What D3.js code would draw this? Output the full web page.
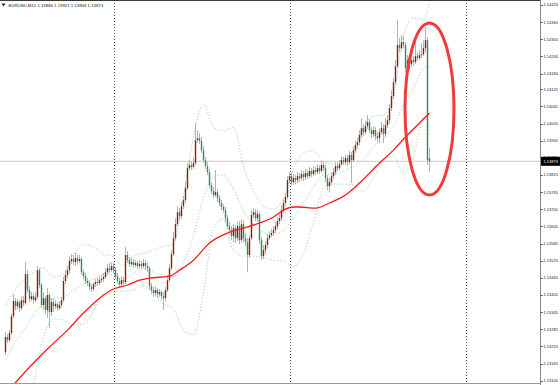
<!DOCTYPE html>
<html>
<head>
<meta charset="utf-8">
<script src="https://cdn.jsdelivr.net/npm/d3@7"></script>
<style>
  html, body { margin: 0; padding: 0; background: #fff; }
  svg { display: block; }
  text { font-family: "Liberation Sans", Arial, sans-serif; }
</style>
</head>
<body>
<div id="chart"></div>
<script>
'use strict';

// header of the chart window
const symbolTitle = 'EURUSD,M15';
const lastBarText = ['1.13884', '1.13921', '1.13834', '1.13873'];
const lastPrice = 1.13873;

// M15 candles, [open, high, low, close]
const candles = [
  [1.13205,1.13275,1.13195,1.13258],[1.13258,1.13268,1.13237,1.13247],[1.13247,1.13282,1.13240,1.13272],
  [1.13272,1.13342,1.13265,1.13331],[1.13331,1.13408,1.13324,1.13384],[1.13384,1.13394,1.13352,1.13366],
  [1.13366,1.13391,1.13356,1.13380],[1.13380,1.13387,1.13345,1.13359],[1.13359,1.13401,1.13352,1.13387],
  [1.13387,1.13401,1.13366,1.13377],
  [1.13377,1.13520,1.13370,1.13478],[1.13478,1.13492,1.13412,1.13422],[1.13422,1.13436,1.13380,1.13391],
  [1.13391,1.13415,1.13384,1.13401],[1.13401,1.13412,1.13373,1.13387],[1.13387,1.13415,1.13380,1.13398],
  [1.13398,1.13506,1.13391,1.13492],[1.13492,1.13499,1.13429,1.13440],[1.13440,1.13447,1.13359,1.13370],
  [1.13370,1.13415,1.13352,1.13394],
  [1.13394,1.13401,1.13338,1.13352],[1.13352,1.13429,1.13324,1.13405],[1.13405,1.13412,1.13289,1.13345],
  [1.13345,1.13394,1.13331,1.13380],[1.13380,1.13394,1.13345,1.13366],[1.13366,1.13387,1.13356,1.13373],
  [1.13373,1.13380,1.13349,1.13359],[1.13359,1.13384,1.13352,1.13370],[1.13370,1.13398,1.13359,1.13387],
  [1.13387,1.13468,1.13380,1.13454],
  [1.13454,1.13492,1.13443,1.13475],[1.13475,1.13506,1.13464,1.13492],[1.13492,1.13541,1.13482,1.13524],
  [1.13524,1.13548,1.13513,1.13531],[1.13531,1.13545,1.13510,1.13520],[1.13520,1.13552,1.13506,1.13534],
  [1.13534,1.13545,1.13513,1.13524],[1.13524,1.13545,1.13517,1.13531],[1.13531,1.13538,1.13475,1.13485],
  [1.13485,1.13492,1.13461,1.13471],
  [1.13471,1.13482,1.13443,1.13454],[1.13454,1.13464,1.13436,1.13447],[1.13447,1.13457,1.13422,1.13433],
  [1.13433,1.13443,1.13415,1.13426],[1.13426,1.13450,1.13419,1.13443],[1.13443,1.13461,1.13433,1.13450],
  [1.13450,1.13464,1.13436,1.13447],[1.13447,1.13471,1.13440,1.13457],[1.13457,1.13475,1.13447,1.13461],
  [1.13461,1.13482,1.13450,1.13468],
  [1.13468,1.13499,1.13461,1.13485],[1.13485,1.13513,1.13475,1.13499],[1.13499,1.13517,1.13482,1.13492],
  [1.13492,1.13520,1.13485,1.13506],[1.13506,1.13517,1.13482,1.13492],[1.13492,1.13503,1.13461,1.13471],
  [1.13471,1.13482,1.13443,1.13454],[1.13454,1.13464,1.13433,1.13443],[1.13443,1.13471,1.13433,1.13457],
  [1.13457,1.13468,1.13440,1.13450],
  [1.13450,1.13573,1.13443,1.13545],[1.13545,1.13559,1.13517,1.13527],[1.13527,1.13538,1.13503,1.13513],
  [1.13513,1.13534,1.13506,1.13520],[1.13520,1.13531,1.13499,1.13510],[1.13510,1.13527,1.13503,1.13517],
  [1.13517,1.13524,1.13496,1.13506],[1.13506,1.13527,1.13499,1.13513],[1.13513,1.13524,1.13496,1.13506],
  [1.13506,1.13531,1.13499,1.13517],
  [1.13517,1.13527,1.13492,1.13506],[1.13506,1.13520,1.13485,1.13499],[1.13499,1.13506,1.13422,1.13436],
  [1.13436,1.13447,1.13408,1.13422],[1.13422,1.13433,1.13398,1.13412],[1.13412,1.13436,1.13401,1.13422],
  [1.13422,1.13429,1.13394,1.13408],[1.13408,1.13426,1.13398,1.13415],[1.13415,1.13422,1.13387,1.13401],
  [1.13401,1.13415,1.13352,1.13394],
  [1.13394,1.13433,1.13384,1.13422],[1.13422,1.13471,1.13415,1.13457],[1.13457,1.13513,1.13450,1.13499],
  [1.13499,1.13562,1.13492,1.13548],[1.13548,1.13625,1.13541,1.13604],[1.13604,1.13674,1.13597,1.13653],
  [1.13653,1.13716,1.13646,1.13695],[1.13695,1.13709,1.13667,1.13681],[1.13681,1.13730,1.13671,1.13716],
  [1.13716,1.13751,1.13706,1.13737],
  [1.13737,1.13800,1.13727,1.13779],[1.13779,1.13867,1.13772,1.13849],[1.13849,1.13877,1.13842,1.13860],
  [1.13860,1.13874,1.13842,1.13853],[1.13853,1.13884,1.13846,1.13867],[1.13867,1.14007,1.13860,1.13947],
  [1.13947,1.13982,1.13937,1.13954],[1.13954,1.13972,1.13933,1.13944],[1.13944,1.13958,1.13902,1.13912],
  [1.13912,1.13926,1.13867,1.13877],
  [1.13877,1.13888,1.13846,1.13856],[1.13856,1.13870,1.13825,1.13835],[1.13835,1.13846,1.13779,1.13790],
  [1.13790,1.13800,1.13758,1.13769],[1.13769,1.13783,1.13744,1.13755],[1.13755,1.13842,1.13748,1.13765],
  [1.13765,1.13776,1.13730,1.13744],[1.13744,1.13755,1.13716,1.13727],[1.13727,1.13737,1.13702,1.13713],
  [1.13713,1.13723,1.13692,1.13702],
  [1.13702,1.13713,1.13660,1.13674],[1.13674,1.13685,1.13636,1.13646],[1.13646,1.13660,1.13618,1.13632],
  [1.13632,1.13646,1.13597,1.13611],[1.13611,1.13653,1.13590,1.13639],[1.13639,1.13650,1.13587,1.13604],
  [1.13604,1.13660,1.13594,1.13646],[1.13646,1.13664,1.13583,1.13597],[1.13597,1.13671,1.13587,1.13653],
  [1.13653,1.13667,1.13590,1.13604],
  [1.13604,1.13622,1.13576,1.13590],[1.13590,1.13604,1.13485,1.13545],[1.13545,1.13615,1.13534,1.13604],
  [1.13604,1.13702,1.13597,1.13685],[1.13685,1.13709,1.13674,1.13695],[1.13695,1.13706,1.13664,1.13674],
  [1.13674,1.13702,1.13660,1.13688],[1.13688,1.13695,1.13583,1.13597],[1.13597,1.13608,1.13527,1.13541],
  [1.13541,1.13580,1.13531,1.13562],
  [1.13562,1.13594,1.13548,1.13580],[1.13580,1.13618,1.13569,1.13604],[1.13604,1.13629,1.13597,1.13615],
  [1.13615,1.13636,1.13608,1.13622],[1.13622,1.13646,1.13611,1.13632],[1.13632,1.13660,1.13622,1.13646],
  [1.13646,1.13678,1.13636,1.13664],[1.13664,1.13688,1.13653,1.13674],[1.13674,1.13720,1.13664,1.13702],
  [1.13702,1.13741,1.13692,1.13727],
  [1.13727,1.13762,1.13716,1.13748],[1.13748,1.13821,1.13741,1.13807],[1.13807,1.13835,1.13797,1.13821],
  [1.13821,1.13832,1.13790,1.13800],[1.13800,1.13828,1.13790,1.13814],[1.13814,1.13825,1.13793,1.13807],
  [1.13807,1.13835,1.13797,1.13821],[1.13821,1.13832,1.13800,1.13814],[1.13814,1.13842,1.13807,1.13828],
  [1.13828,1.13839,1.13804,1.13818],
  [1.13818,1.13846,1.13807,1.13832],[1.13832,1.13842,1.13811,1.13821],[1.13821,1.13853,1.13814,1.13839],
  [1.13839,1.13849,1.13818,1.13828],[1.13828,1.13856,1.13821,1.13842],[1.13842,1.13853,1.13825,1.13835],
  [1.13835,1.13863,1.13828,1.13849],[1.13849,1.13860,1.13828,1.13839],[1.13839,1.13874,1.13832,1.13860],
  [1.13860,1.13870,1.13839,1.13849],
  [1.13849,1.13860,1.13800,1.13814],[1.13814,1.13825,1.13772,1.13786],[1.13786,1.13814,1.13765,1.13800],
  [1.13800,1.13835,1.13790,1.13821],[1.13821,1.13849,1.13811,1.13835],[1.13835,1.13870,1.13825,1.13856],
  [1.13856,1.13867,1.13839,1.13849],[1.13849,1.13877,1.13842,1.13863],[1.13863,1.13891,1.13856,1.13877],
  [1.13877,1.13888,1.13860,1.13870],
  [1.13870,1.13898,1.13860,1.13884],[1.13884,1.13895,1.13856,1.13870],[1.13870,1.13909,1.13863,1.13895],
  [1.13895,1.13905,1.13797,1.13877],[1.13877,1.13926,1.13870,1.13912],[1.13912,1.13944,1.13902,1.13930],
  [1.13930,1.13954,1.13919,1.13940],[1.13940,1.13982,1.13930,1.13965],[1.13965,1.14024,1.13954,1.13989],
  [1.13989,1.14003,1.13961,1.13975],
  [1.13975,1.14014,1.13968,1.13996],[1.13996,1.14035,1.13986,1.14010],[1.14010,1.14021,1.13972,1.13982],
  [1.13982,1.13993,1.13954,1.13968],[1.13968,1.13996,1.13958,1.13982],[1.13982,1.13993,1.13947,1.13961],
  [1.13961,1.13975,1.13940,1.13954],[1.13954,1.13989,1.13937,1.13975],[1.13975,1.14010,1.13965,1.13989],
  [1.13989,1.14003,1.13937,1.13968],
  [1.13968,1.14024,1.13958,1.14000],[1.14000,1.14035,1.13989,1.14017],[1.14017,1.14073,1.14003,1.14059],
  [1.14059,1.14122,1.14049,1.14101],[1.14101,1.14164,1.14091,1.14150],[1.14150,1.14227,1.14140,1.14206],
  [1.14206,1.14367,1.14199,1.14280],[1.14280,1.14304,1.14255,1.14269],[1.14269,1.14315,1.14262,1.14290],
  [1.14290,1.14311,1.14269,1.14280],
  [1.14280,1.14290,1.14185,1.14199],[1.14199,1.14245,1.14168,1.14227],[1.14227,1.14245,1.14192,1.14213],
  [1.14213,1.14241,1.14203,1.14227],[1.14227,1.14241,1.14206,1.14220],[1.14220,1.14297,1.14213,1.14241],
  [1.14241,1.14255,1.14224,1.14234],[1.14234,1.14262,1.14227,1.14245],[1.14245,1.14287,1.14234,1.14248],
  [1.14248,1.14297,1.14241,1.14269],
  [1.14269,1.14343,1.14255,1.14297],[1.14297,1.14308,1.13860,1.13877],[1.13884,1.13921,1.13834,1.13873]
];

// Bollinger bands (20, 2), read at these bars
const bandIdx = [0,4,9,14,19,24,29,34,39,44,49,54,59,64,69,74,79,84,89,94,99,104,109,114,119,
  124,129,134,139,144,149,154,159,164,169,174,179,184,189,194,199,204,209,211,212];
const bandMid = [1.13177,1.13230,1.13282,1.13335,1.13377,1.13394,1.13398,1.13422,1.13443,1.13461,
  1.13478,1.13475,1.13461,1.13482,1.13496,1.13485,1.13475,1.13471,1.13517,1.13613,1.13744,1.13818,
  1.13825,1.13776,1.13699,1.13653,1.13625,1.13618,1.13632,1.13676,1.13727,1.13783,1.13825,1.13828,
  1.13839,1.13853,1.13881,1.13924,1.13951,1.13996,1.14073,1.14129,1.14199,1.14206,1.14197];
const bandUpper = [1.13370,1.13415,1.13457,1.13485,1.13499,1.13468,1.13478,1.13545,1.13583,1.13573,
  1.13548,1.13538,1.13506,1.13541,1.13552,1.13562,1.13576,1.13583,1.13751,1.13958,1.14073,1.13993,
  1.13979,1.13993,1.13853,1.13769,1.13716,1.13706,1.13741,1.13846,1.13903,1.13910,1.13870,1.13863,
  1.13884,1.13912,1.13993,1.14031,1.14035,1.14098,1.14315,1.14374,1.14371,1.14399,1.14430];
const bandLower = [1.12967,1.12985,1.13020,1.13097,1.13254,1.13321,1.13317,1.13300,1.13303,1.13349,
  1.13408,1.13412,1.13419,1.13422,1.13440,1.13408,1.13373,1.13356,1.13282,1.13268,1.13412,1.13639,
  1.13671,1.13559,1.13541,1.13541,1.13534,1.13527,1.13524,1.13506,1.13552,1.13657,1.13776,1.13793,
  1.13793,1.13790,1.13769,1.13818,1.13868,1.13891,1.13828,1.13884,1.14028,1.14014,1.13965];

// red moving average, read at these bars
const maIdx = [0,4,14,22,31,39,47,54,61,67,72,82,87,94,102,111,119,127,134,139,144,147,155,162,
  170,177,187,194,200,206,211,212];
const maVals = [1.13055,1.13090,1.13167,1.13223,1.13282,1.13342,1.13394,1.13426,1.13440,1.13457,
  1.13464,1.13471,1.13492,1.13527,1.13587,1.13622,1.13639,1.13657,1.13678,1.13702,1.13713,1.13713,
  1.13709,1.13727,1.13755,1.13797,1.13867,1.13912,1.13958,1.14000,1.14035,1.14042];

// price scale labels
const priceTicks = [1.14420,1.14360,1.14300,1.14240,1.14180,1.14125,1.14065,1.14005,1.13945,1.13885,
  1.13825,1.13765,1.13705,1.13645,1.13585,1.13525,1.13465,1.13405,1.13345,1.13285,1.13225,1.13165,1.13105];

// vertical grid, in bars
const gridBars = [54, 142, 230];

// hand drawn ellipse around the last drop
const mark = { barFrom: 199.75, barTo: 224.25, high: 1.14357, low: 1.13755 };

const width = 560, height = 385;
const plotRight = 540, plotBottom = 384;

const x = d3.scaleLinear().domain([0, candles.length - 1]).range([5.5, 429.5]);
const y = d3.scaleLinear().domain([1.1309, 1.144375]).range([385, 0]);

const svg = d3.select('#chart').append('svg')
    .attr('width', width)
    .attr('height', height);

svg.append('rect').attr('width', width).attr('height', height).attr('fill', '#fff');

svg.append('clipPath').attr('id', 'plotclip')
  .append('rect').attr('x', 0).attr('y', 0).attr('width', plotRight).attr('height', plotBottom);

const plot = svg.append('g').attr('clip-path', 'url(#plotclip)');

// grid
plot.selectAll('line.grid')
    .data(gridBars)
    .enter().append('line')
      .attr('class', 'grid')
      .attr('x1', d => Math.round(x(d)) + 0.5)
      .attr('x2', d => Math.round(x(d)) + 0.5)
      .attr('y1', 0).attr('y2', plotBottom)
      .attr('stroke', '#4a4a4a')
      .attr('stroke-width', 1)
      .attr('stroke-dasharray', '1,2');

// bid line
plot.append('line')
    .attr('x1', 0).attr('x2', plotRight)
    .attr('y1', y(lastPrice)).attr('y2', y(lastPrice))
    .attr('stroke', '#c8c8c8')
    .attr('stroke-width', 1);

// bands
const bandLine = vals => d3.line()
    .x((d, i) => x(bandIdx[i]))
    .y(d => y(d))
    .curve(d3.curveMonotoneX)(vals);

[bandUpper, bandMid, bandLower].forEach(function(vals){
    plot.append('path')
        .attr('d', bandLine(vals))
        .attr('fill', 'none')
        .attr('stroke', '#8fd3a2')
        .attr('stroke-width', 1)
        .attr('stroke-dasharray', '1,2');
});

// candles
const bars = plot.append('g');
bars.selectAll('line.wick')
    .data(candles)
    .enter().append('line')
      .attr('class', 'wick')
      .attr('x1', (d, i) => x(i)).attr('x2', (d, i) => x(i))
      .attr('y1', d => y(d[1])).attr('y2', d => y(d[2]))
      .attr('stroke', '#b2b2b2')
      .attr('stroke-width', 1);

bars.selectAll('rect.body')
    .data(candles)
    .enter().append('rect')
      .attr('class', 'body')
      .attr('x', (d, i) => x(i) - 0.7)
      .attr('width', 1.4)
      .attr('y', d => y(Math.max(d[0], d[3])))
      .attr('height', d => Math.max(0.8, Math.abs(y(d[0]) - y(d[3]))))
      .attr('fill', function(d){
          if(d[3] > d[0]) return '#8b1a1a';
          if(d[3] < d[0]) return '#2e8b57';
          return '#b2b2b2';
      });

// moving average
plot.append('path')
    .attr('d', d3.line()
        .x((d, i) => x(maIdx[i]))
        .y(d => y(d))
        .curve(d3.curveMonotoneX)(maVals))
    .attr('fill', 'none')
    .attr('stroke', '#ff1a1a')
    .attr('stroke-width', 1.3);

// ellipse annotation
svg.append('ellipse')
    .attr('cx', (x(mark.barFrom) + x(mark.barTo)) / 2)
    .attr('cy', (y(mark.high) + y(mark.low)) / 2)
    .attr('rx', (x(mark.barTo) - x(mark.barFrom)) / 2)
    .attr('ry', (y(mark.low) - y(mark.high)) / 2)
    .attr('fill', 'none')
    .attr('stroke', '#f23a3a')
    .attr('stroke-width', 3);

// frame
svg.append('line')
    .attr('x1', 0).attr('x2', plotRight).attr('y1', 0.5).attr('y2', 0.5)
    .attr('stroke', '#3a3a3a');
svg.append('line')
    .attr('x1', 0).attr('x2', plotRight).attr('y1', plotBottom - 0.5).attr('y2', plotBottom - 0.5)
    .attr('stroke', '#9a9a9a');
svg.append('line')
    .attr('x1', plotRight + 0.5).attr('x2', plotRight + 0.5).attr('y1', 0).attr('y2', height)
    .attr('stroke', '#8a8a8a');

// price scale
const axis = svg.append('g');
axis.selectAll('line.tick')
    .data(priceTicks)
    .enter().append('line')
      .attr('class', 'tick')
      .attr('x1', plotRight).attr('x2', plotRight + 3)
      .attr('y1', d => Math.round(y(d)) + 0.5).attr('y2', d => Math.round(y(d)) + 0.5)
      .attr('stroke', '#666');
axis.selectAll('text.tick')
    .data(priceTicks)
    .enter().append('text')
      .attr('class', 'tick')
      .attr('x', plotRight + 3.5)
      .attr('y', d => y(d) + 1.4)
      .attr('font-size', 4)
      .attr('fill', '#222')
      .text(d => d.toFixed(5));

// bid label
axis.append('rect')
    .attr('x', plotRight + 1).attr('y', y(lastPrice) - 4.5)
    .attr('width', 19).attr('height', 9)
    .attr('fill', '#000');
axis.append('text')
    .attr('x', plotRight + 3.5)
    .attr('y', y(lastPrice) + 1.5)
    .attr('font-size', 4)
    .attr('fill', '#fff')
    .text(lastPrice.toFixed(5));

// title
svg.append('path')
    .attr('d', 'M1.5,3.5 L5.5,3.5 L3.5,6.5 Z')
    .attr('fill', '#222');
svg.append('text')
    .attr('x', 8.5)
    .attr('y', 7)
    .attr('font-size', 4.3)
    .attr('fill', '#111')
    .text(symbolTitle + '  ' + lastBarText.join(' '));
</script>
</body>
</html>
